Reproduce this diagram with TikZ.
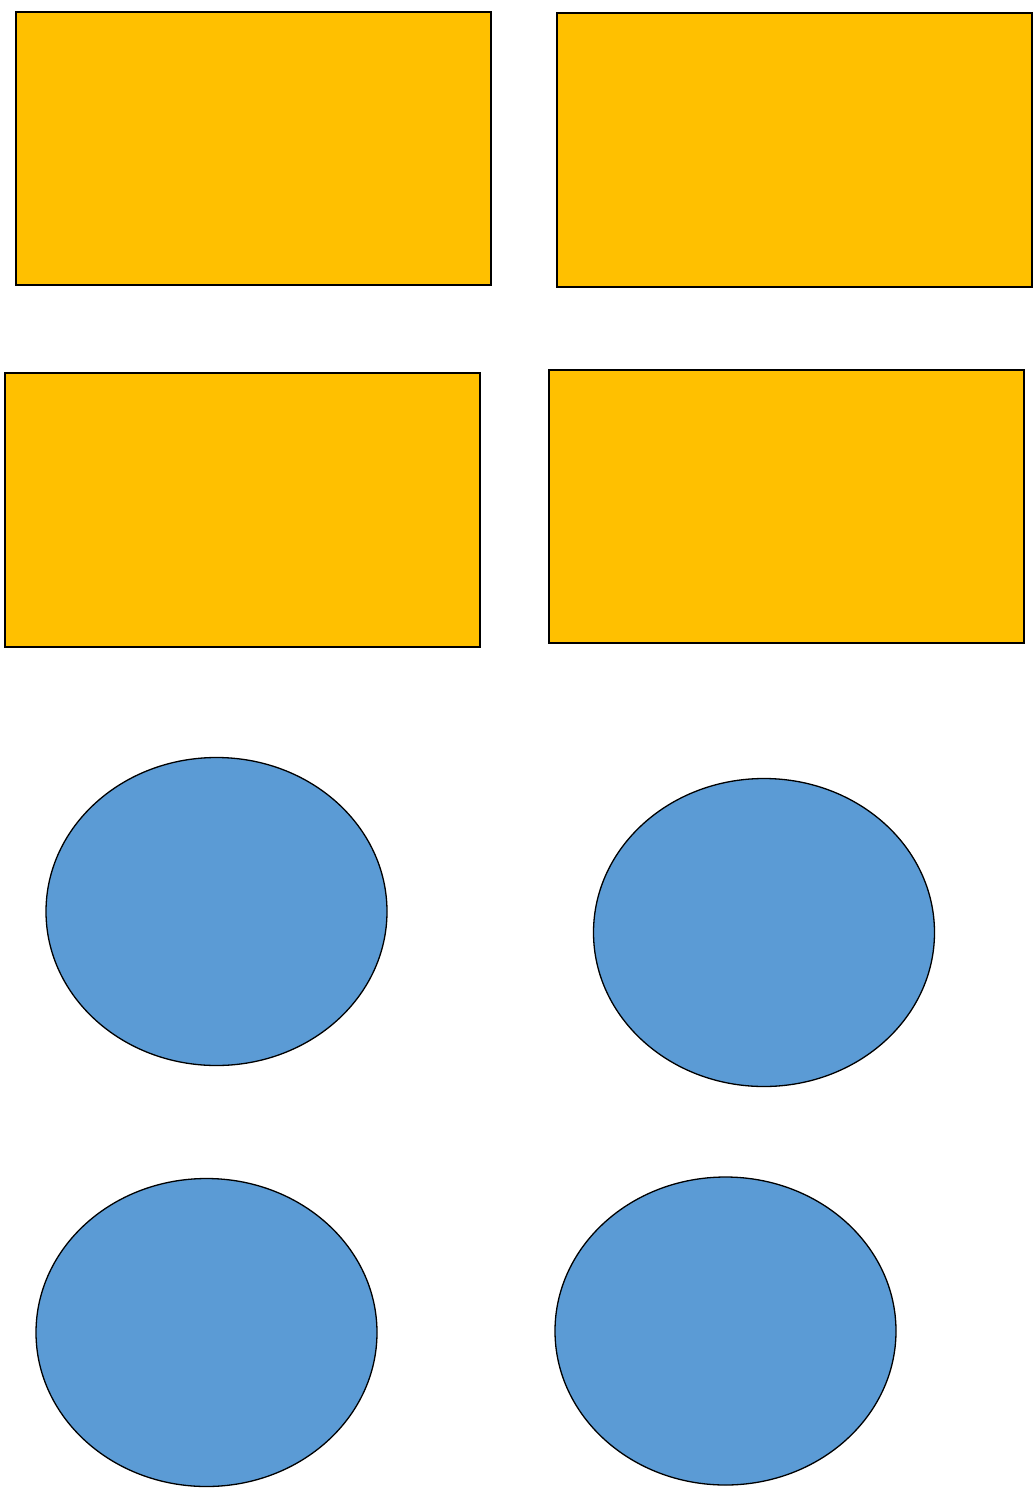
\documentclass[tikz,border=0pt]{standalone}
\usetikzlibrary{shapes.geometric}
\definecolor{boxyellow}{HTML}{FFC000}
\definecolor{ovalblue}{HTML}{5B9BD5}
\begin{document}
\begin{tikzpicture}[x=1pt,y=-1pt,
  rbox/.style={draw=black,line width=1.3pt,fill=boxyellow,rectangle,inner sep=0pt,minimum width=475pt,minimum height=273pt},
  oval/.style={draw=black,line width=1.3pt,fill=ovalblue,ellipse,inner sep=0pt,minimum width=341pt,minimum height=308pt}]
\useasboundingbox (0,0) rectangle (1035,1490);
\node[rbox] (r1) at (253.5,148.5) {};
\node[rbox,minimum height=274pt] (r2) at (794.5,150) {};
\node[rbox,minimum height=274pt] (r3) at (242.5,510) {};
\node[rbox] (r4) at (786.5,506.5) {};
\node[oval] (e1) at (216.5,911.5) {};
\node[oval] (e2) at (764,932.5) {};
\node[oval] (e3) at (206.5,1332.5) {};
\node[oval] (e4) at (725.5,1331) {};
\end{tikzpicture}
\end{document}
